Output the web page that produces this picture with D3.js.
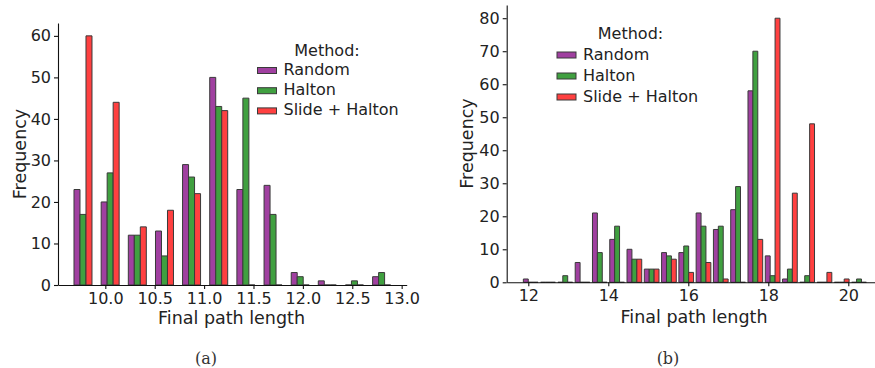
<!DOCTYPE html>
<html>
<head>
<meta charset="utf-8">
<script src="https://cdn.jsdelivr.net/npm/d3@7"></script>
<style>
  body { margin: 0; background: #fff; }
  svg { display: block; }
  text { font-family: "DejaVu Sans", sans-serif; fill: #222; }
</style>
</head>
<body>
<svg id="chart" width="875" height="368"></svg>
<script>
// methods, shared by both panels
const methods = ['Random', 'Halton', 'Slide + Halton'];
const methodColors = ['#a040a0', '#40a040', '#ff4040'];

// panel (a): bin centres and counts
const binsA = [9.774, 10.049, 10.324, 10.599, 10.873, 11.148, 11.423, 11.698, 11.973, 12.247, 12.522, 12.797];
const randomA = [23, 20, 12, 13, 29, 50, 23, 24, 3, 1, 0, 2];
const haltonA = [17, 27, 12, 7, 26, 43, 45, 17, 2, 0, 1, 3];
const slideA = [60, 44, 14, 18, 22, 42, 0, 0, 0, 0, 0, 0];
const xTicksA = [10.0, 10.5, 11.0, 11.5, 12.0, 12.5, 13.0];
const yTicksA = [0, 10, 20, 30, 40, 50, 60];

// panel (b): bin centres and counts
const binsB = [12.06, 12.492, 12.924, 13.356, 13.788, 14.22, 14.652, 15.084, 15.516, 15.948,
               16.38, 16.812, 17.244, 17.676, 18.108, 18.54, 18.972, 19.404, 19.836, 20.268];
const randomB = [1, 0, 0, 6, 21, 13, 10, 4, 9, 9, 21, 16, 22, 58, 8, 1, 0, 0, 0, 0];
const haltonB = [0, 0, 2, 0, 9, 17, 7, 4, 8, 11, 17, 17, 29, 70, 2, 4, 2, 0, 0, 1];
const slideB = [0, 0, 0, 0, 0, 0, 7, 4, 7, 3, 6, 1, 0, 13, 80, 27, 48, 3, 1, 0];
const xTicksB = [12, 14, 16, 18, 20];
const yTicksB = [0, 10, 20, 30, 40, 50, 60, 70, 80];

const svg = d3.select('#chart');

function drawPanel(p) {
  const g = svg.append('g');
  const x = d3.scaleLinear().domain(p.xDomain).range(p.xRange);
  const y = d3.scaleLinear().domain(p.yDomain).range(p.yRange);

  const series = [p.random, p.halton, p.slide];
  const rows = [];
  series.forEach((vals, m) => {
    vals.forEach((v, i) => rows.push({ m, c: p.bins[i], v }));
  });

  // bars as paths so that empty bins still show their edge on the baseline
  g.append('g').selectAll('path')
    .data(rows)
    .join('path')
    .attr('d', d => {
      const x0 = x(d.c - 1.5 * p.barW + d.m * p.barW);
      const x1 = x(d.c - 1.5 * p.barW + (d.m + 1) * p.barW);
      const y0 = y(0), y1 = y(d.v);
      return `M${x0},${y0}L${x0},${y1}L${x1},${y1}L${x1},${y0}Z`;
    })
    .attr('fill', d => methodColors[d.m])
    .attr('stroke', '#3a3a3a')
    .attr('stroke-width', 1);

  const xAxis = g.append('g')
    .attr('transform', `translate(0,${p.yRange[0]})`)
    .call(d3.axisBottom(x).tickValues(p.xTicks).tickFormat(p.xFormat)
      .tickSize(4).tickPadding(3.5).tickSizeOuter(0));
  const yAxis = g.append('g')
    .attr('transform', `translate(${p.xRange[0]},0)`)
    .call(d3.axisLeft(y).tickValues(p.yTicks).tickFormat(d3.format('d'))
      .tickSize(4).tickPadding(3).tickSizeOuter(0));
  [xAxis, yAxis].forEach(a => {
    a.selectAll('path, line').attr('stroke', '#111').attr('stroke-width', 1.1);
    a.selectAll('text').attr('font-size', 16).attr('fill', '#222')
      .attr('font-family', '"DejaVu Sans", sans-serif');
  });

  g.append('text')
    .attr('x', p.xLabel[0]).attr('y', p.xLabel[1])
    .attr('text-anchor', 'middle').attr('font-size', 17.5)
    .text('Final path length');
  g.append('text')
    .attr('transform', `translate(${p.yLabel[0]},${p.yLabel[1]}) rotate(-90)`)
    .attr('text-anchor', 'middle').attr('font-size', 17.5)
    .text('Frequency');

  // legend
  const lg = g.append('g');
  lg.append('text')
    .attr('x', p.legend.titleX).attr('y', p.legend.titleY)
    .attr('text-anchor', 'middle').attr('font-size', 16)
    .text('Method:');
  methods.forEach((name, i) => {
    const cy = p.legend.y0 + i * p.legend.dy;
    lg.append('rect')
      .attr('x', p.legend.x).attr('y', cy - 3)
      .attr('width', 19).attr('height', 6)
      .attr('fill', methodColors[i]).attr('stroke', '#3a3a3a').attr('stroke-width', 1);
    lg.append('text')
      .attr('x', p.legend.x + 26).attr('y', cy + 4.5)
      .attr('font-size', 16)
      .text(name);
  });

  svg.append('text')
    .attr('x', p.caption[0]).attr('y', p.caption[1])
    .attr('text-anchor', 'middle')
    .attr('font-size', 16)
    .style('font-family', '"DejaVu Serif", serif')
    .style('fill', '#333')
    .text(p.captionText);
}

drawPanel({
  bins: binsA, random: randomA, halton: haltonA, slide: slideA,
  xTicks: xTicksA, yTicks: yTicksA, xFormat: d3.format('.1f'),
  xDomain: [9.521, 13.051], xRange: [58, 406.7],
  yDomain: [0, 63.1], yRange: [285, 23],
  barW: 0.0607,
  xLabel: [231.5, 324], yLabel: [26, 154],
  legend: { x: 257.5, y0: 70.5, dy: 20.2, titleX: 327, titleY: 55.7 },
  caption: [206, 364], captionText: '(a)'
});

drawPanel({
  bins: binsB, random: randomB, halton: haltonB, slide: slideB,
  xTicks: xTicksB, yTicks: yTicksB, xFormat: d3.format('d'),
  xDomain: [11.46, 20.66], xRange: [506.7, 874.7],
  yDomain: [0, 84], yRange: [282.3, 5],
  barW: 0.1225,
  xLabel: [694, 322.7], yLabel: [472.5, 143.5],
  legend: { x: 557, y0: 55, dy: 21, titleX: 630.5, titleY: 39.3 },
  caption: [668, 364], captionText: '(b)'
});
</script>
</body>
</html>
